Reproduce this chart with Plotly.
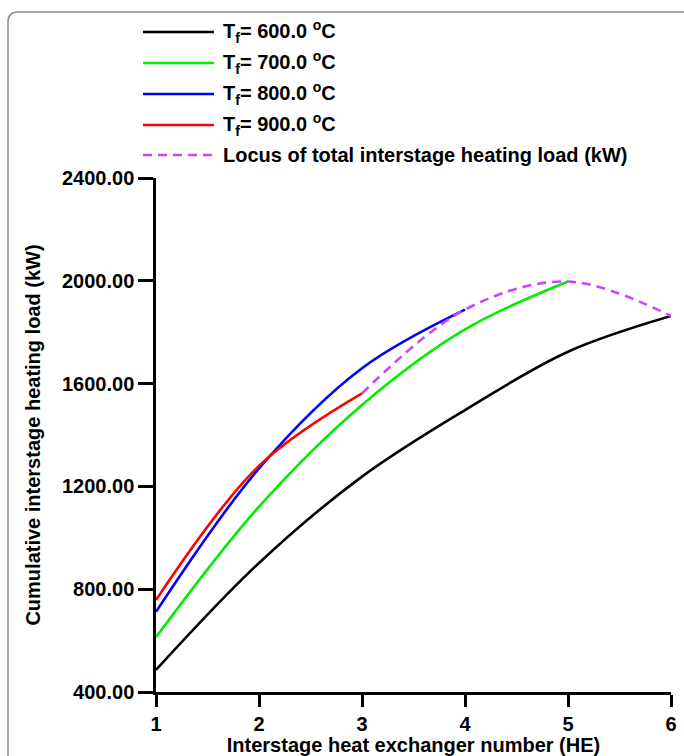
import plotly.graph_objects as go

# ---- data ----
he_600 = [1, 2, 3, 4, 5, 6]
load_600 = [486, 902, 1238, 1497, 1724, 1863]

he_700 = [1, 2, 3, 4, 5]
load_700 = [613, 1121, 1517, 1811, 1997]

he_800 = [1, 2, 3, 4]
load_800 = [712, 1270, 1660, 1888]

he_900 = [1, 2, 3]
load_900 = [758, 1280, 1562]

he_locus = [3, 4, 5, 6]
load_locus = [1562, 1888, 1997, 1863]

series_names = ["T<sub>f</sub>= 600.0 <sup>o</sup>C", "T<sub>f</sub>= 700.0 <sup>o</sup>C",
                "T<sub>f</sub>= 800.0 <sup>o</sup>C", "T<sub>f</sub>= 900.0 <sup>o</sup>C",
                "Locus of total interstage heating load (kW)"]
colors = ["#000000", "#00EE00", "#0000FF", "#FF0000", "#CC44FF"]

x_ticks = [1, 2, 3, 4, 5, 6]
y_ticks = [400, 800, 1200, 1600, 2000, 2400]
y_tick_text = ["400.00", "800.00", "1200.00", "1600.00", "2000.00", "2400.00"]

# ---- layout geometry ----
W, H = 684, 756
L, R, T, B = 156, 13, 178, 64
pw, ph = W - L - R, H - T - B


def px(x):
    return (x - L) / pw


def py(y):
    return (H - B - y) / ph


FONT = "Liberation Sans, Arial, sans-serif"
FS = 20

fig = go.Figure()
data = [(he_600, load_600), (he_700, load_700), (he_800, load_800), (he_900, load_900)]
for (xs, ys), c, n in zip(data, colors[:4], series_names[:4]):
    fig.add_trace(go.Scatter(x=xs, y=ys, mode="lines", name=n,
                             line=dict(color=c, width=2.6, shape="spline", smoothing=1.0),
                             showlegend=False, cliponaxis=False))
fig.add_trace(go.Scatter(x=he_locus, y=load_locus, mode="lines", name=series_names[4],
                         line=dict(color=colors[4], width=2.6, dash="9px,6px",
                                   shape="spline", smoothing=1.0),
                         showlegend=False, cliponaxis=False))

shapes = []
annotations = []
# manual legend
leg_y = [32, 63, 94, 125, 155]
for i, (name, c) in enumerate(zip(series_names, colors)):
    shapes.append(dict(type="line", xref="paper", yref="paper",
                       x0=px(143), x1=px(214), y0=py(leg_y[i]), y1=py(leg_y[i]),
                       line=dict(color=c, width=2.6,
                                 dash="9px,6px" if i == 4 else "solid")))
    annotations.append(dict(xref="paper", yref="paper", x=px(221), y=py(leg_y[i]),
                            text="<b>" + name + "</b>", showarrow=False,
                            xanchor="left", yanchor="middle",
                            font=dict(family=FONT, size=FS, color="black")))

# figure frame (rounded top-left corner)
x0, y0, r = 8, 12, 10
path = (f"M {px(W + 5)} {py(y0)} L {px(x0 + r)} {py(y0)} "
        f"Q {px(x0)} {py(y0)} {px(x0)} {py(y0 + r)} L {px(x0)} {py(H + 5)}")
shapes.append(dict(type="path", xref="paper", yref="paper", path=path,
                   line=dict(color="#8a8a8a", width=1.5)))

fig.update_layout(
    width=W, height=H,
    margin=dict(l=L, r=R, t=T, b=B),
    paper_bgcolor="white", plot_bgcolor="white",
    font=dict(family=FONT, size=FS, color="black"),
    shapes=shapes, annotations=annotations,
    xaxis=dict(range=[1, 6], tickvals=x_ticks, ticktext=[str(v) for v in x_ticks],
               showline=True, linecolor="black", linewidth=2.5, automargin=False,
               ticks="outside", ticklen=12, tickwidth=2.5, tickcolor="black",
               showgrid=False, zeroline=False,
               tickfont=dict(family=FONT, size=FS, color="black", weight="bold"),
               title=dict(text="<b>Interstage heat exchanger number (HE)</b>",
                          font=dict(family=FONT, size=FS, color="black"), standoff=5)),
    yaxis=dict(range=[400, 2400], tickvals=y_ticks, ticktext=y_tick_text,
               showline=True, linecolor="black", linewidth=2.5, automargin=False,
               ticks="outside", ticklen=15, tickwidth=2.5, tickcolor="black",
               showgrid=False, zeroline=False,
               tickfont=dict(family=FONT, size=FS, color="black", weight="bold"),
               title=dict(text="<b>Cumulative interstage heating load (kW)</b>",
                          font=dict(family=FONT, size=FS, color="black"), standoff=16)),
)

fig.write_html("out.html")
